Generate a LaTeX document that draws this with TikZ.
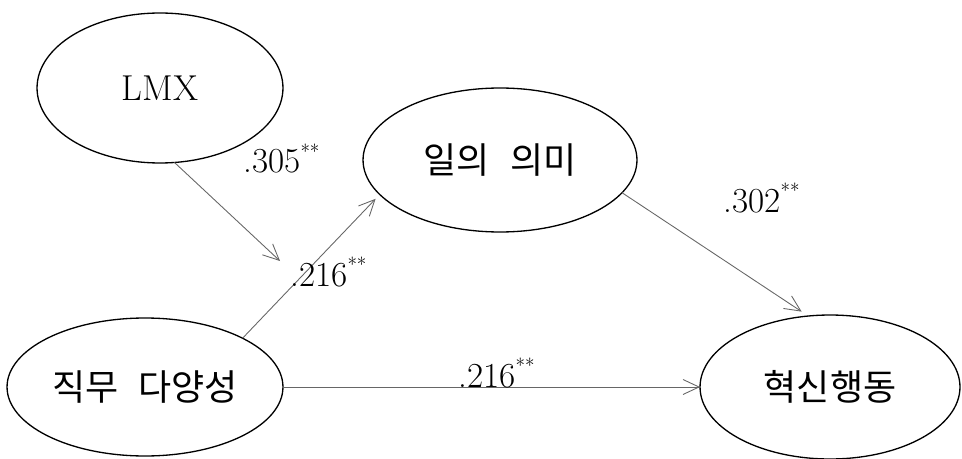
\documentclass[tikz,border=0pt]{standalone}
\usepackage{fontspec}
\usetikzlibrary{shapes.geometric,arrows.meta}
\newfontfamily\kor[WordSpace=2.5]{Noto Sans CJK KR}
\newcommand{\sigstar}{\raisebox{0.4em}{\fontsize{11}{12}\selectfont **}}

\begin{document}
\begin{tikzpicture}[x=0.02cm, y=-0.02cm,
    var/.style={draw, ellipse, line width=0.75pt, inner sep=0pt, outer sep=0pt, font=\fontsize{20.5}{24}\selectfont},
    arr/.style={draw=black!60, line width=0.5pt, -{Straight Barb[length=3.2mm,width=3mm]}},
    est/.style={anchor=base west, inner sep=0pt, font=\fontsize{20}{24}\selectfont}]
    \useasboundingbox (0,0) rectangle (962,459);

    \node [var, minimum width=4.92cm, minimum height=3cm] (lmx) at (160,88) {LMX};
    \node [var, minimum width=5.48cm, minimum height=2.88cm] (meaning) at (500,160) {\kor 일의 의미};
    \node [var, minimum width=5.52cm, minimum height=2.76cm] (variety) at (145,387) {\kor 직무 다양성};
    \node [var, minimum width=5.2cm, minimum height=2.88cm] (innov) at (830,387) {\kor 혁신행동};

    \coordinate (mod) at (280,261);

    \draw [arr] (lmx.-79) -- (mod);
    \draw [arr, shorten >=1.2mm] (variety.north east) -- (meaning.196);
    \draw [arr, shorten >=1.6mm] (meaning.-15) -- (innov.107);
    \draw [arr] (variety.east) -- (innov.west);

    \node [est] (b1) at (243,173) {.305\sigstar};
    \node [est] (b2) at (290,286) {.216\sigstar};
    \node [est] (b3) at (723,212) {.302\sigstar};
    \node [est] (b4) at (458,387) {.216\sigstar};
\end{tikzpicture}
\end{document}
